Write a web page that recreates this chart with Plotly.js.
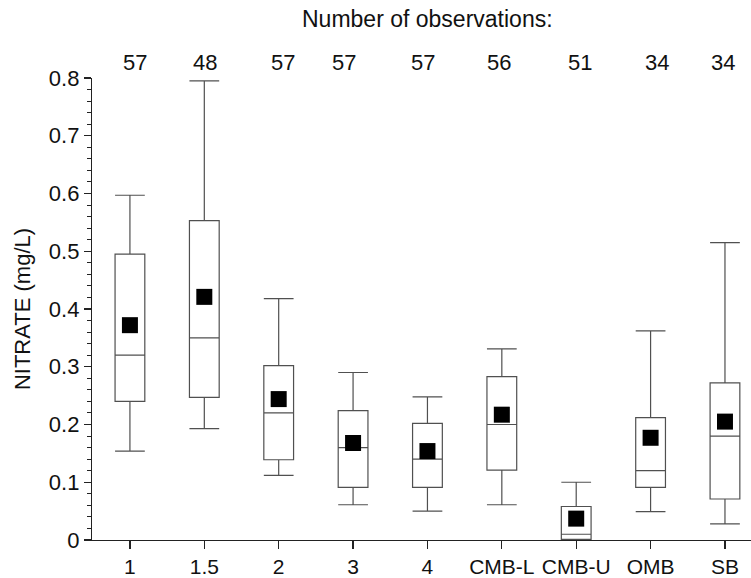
<!DOCTYPE html>
<html>
<head>
<meta charset="utf-8">
<script src="https://cdn.plot.ly/plotly-3.0.1.min.js"></script>
<style>html,body{margin:0;padding:0;background:#fff;}#chart{width:751px;height:578px;}</style>
</head>
<body>
<div id="chart"></div>
<script>
// ---- data ----
const categories = ["1", "1.5", "2", "3", "4", "CMB-L", "CMB-U", "OMB", "SB"];
const counts = [57, 48, 57, 57, 57, 56, 51, 34, 34];
const lowerWhisker = [0.154, 0.193, 0.112, 0.061, 0.050, 0.061, 0.000, 0.049, 0.028];
const q1Values     = [0.240, 0.247, 0.139, 0.091, 0.091, 0.121, 0.001, 0.091, 0.071];
const medianValues = [0.320, 0.350, 0.220, 0.160, 0.140, 0.200, 0.010, 0.120, 0.180];
const q3Values     = [0.495, 0.553, 0.302, 0.224, 0.202, 0.283, 0.058, 0.212, 0.272];
const upperWhisker = [0.597, 0.795, 0.418, 0.290, 0.248, 0.331, 0.100, 0.362, 0.515];
const meanValues   = [0.372, 0.421, 0.244, 0.168, 0.154, 0.217, 0.037, 0.177, 0.205];
const yTickValues = [0, 0.1, 0.2, 0.3, 0.4, 0.5, 0.6, 0.7, 0.8];
const yTickLabels = ["0", "0.1", "0.2", "0.3", "0.4", "0.5", "0.6", "0.7", "0.8"];

// ---- style ----
const FONT = "Arial, 'Liberation Sans', sans-serif";
const FS = 22;
const countShift = [5, 1, 4, -9, -4, -3, 4, 6, -2];
const W = 751, H = 578, ML = 92, MR = 0, MT = 78, MB = 38;

const boxTrace = {
  type: "box",
  x: categories,
  q1: q1Values,
  median: medianValues,
  q3: q3Values,
  lowerfence: lowerWhisker,
  upperfence: upperWhisker,
  boxpoints: false,
  width: 0.4,
  whiskerwidth: 1,
  fillcolor: "#ffffff",
  line: { color: "#505050", width: 1.2 },
  hoverinfo: "skip",
  showlegend: false
};

const meanTrace = {
  type: "scatter",
  mode: "markers",
  x: categories,
  y: meanValues,
  marker: { symbol: "square", size: 16, color: "#000000" },
  showlegend: false,
  hoverinfo: "skip"
};

const annotations = categories.map((c, i) => ({
  x: i, y: 1 + (MT - 62) / (H - MT - MB), xref: "x", yref: "paper",
  yanchor: "middle", xanchor: "center", xshift: countShift[i],
  text: String(counts[i]), showarrow: false,
  font: { family: FONT, size: FS, color: "#111" }
}));
annotations.push({
  x: (427 - ML) / (W - ML - MR), y: 1 + (MT - 19) / (H - MT - MB),
  xref: "paper", yref: "paper", xanchor: "center", yanchor: "middle",
  showarrow: false,
  text: "Number of observations:",
  font: { family: FONT, size: 23, color: "#111" }
});

const layout = {
  width: W, height: H,
  margin: { l: ML, r: MR, t: MT, b: MB, pad: 0 },
  paper_bgcolor: "#ffffff",
  plot_bgcolor: "#ffffff",
  font: { family: FONT, size: FS, color: "#111" },
  showlegend: false,
  xaxis: {
    type: "category",
    range: [-0.51, 8.35],
    showline: true, linecolor: "#222", linewidth: 1.2,
    ticks: "outside", ticklen: 8, tickcolor: "#222", tickwidth: 1.2,
    showgrid: false, zeroline: false,
    tickfont: { family: FONT, size: 21, color: "#111" }
  },
  yaxis: {
    range: [0, 0.8],
    tickvals: yTickValues, ticktext: yTickLabels,
    showline: true, linecolor: "#222", linewidth: 1.2,
    ticks: "outside", ticklen: 7, tickcolor: "#222", tickwidth: 1.2,
    minor: { dtick: 0.02, ticks: "outside", ticklen: 4, tickcolor: "#222", tickwidth: 1, showgrid: false },
    showgrid: false, zeroline: false,
    tickfont: { family: FONT, size: FS, color: "#111" },
    title: { text: "NITRATE (mg/L)", standoff: 12, font: { family: FONT, size: FS, color: "#111" } }
  },
  annotations: annotations
};

Plotly.newPlot("chart", [boxTrace, meanTrace], layout, { staticPlot: true, displayModeBar: false });
</script>
</body>
</html>
